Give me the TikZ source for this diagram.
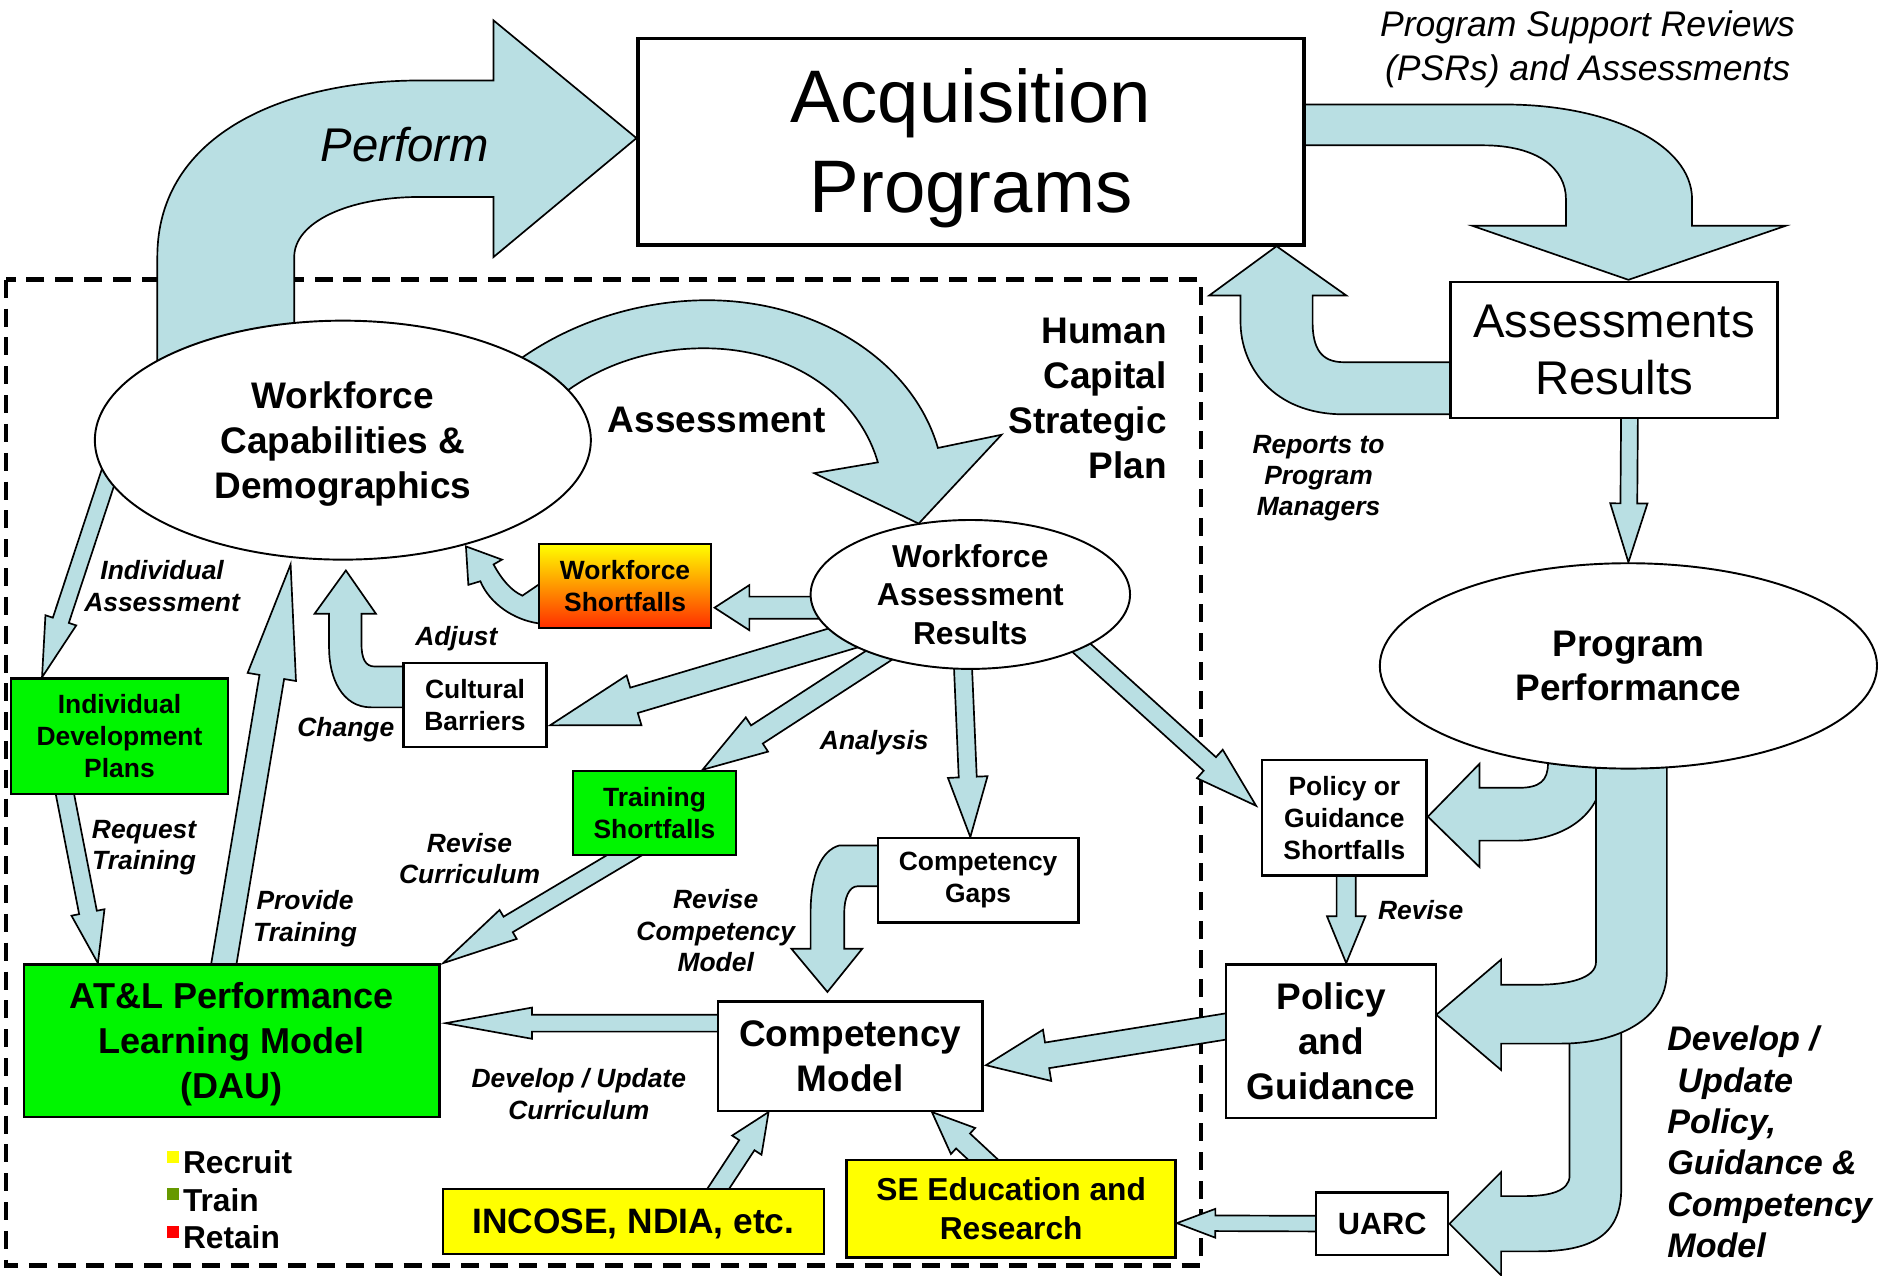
\documentclass[tikz,border=0pt]{standalone}
\usepackage{fontspec}
\setmainfont{Liberation Sans}
\usetikzlibrary{shapes.geometric,calc,backgrounds}
\definecolor{arrowblue}{RGB}{185,223,227}
\definecolor{boxgreen}{RGB}{0,245,0}
\definecolor{boxyellow}{RGB}{255,255,0}
\definecolor{wsorange}{RGB}{255,165,0}
\definecolor{wsred}{RGB}{255,45,0}
\definecolor{trainc}{RGB}{102,153,0}
\newcommand{\fsz}[2]{\fontsize{#1}{#2}\selectfont}
\newcommand{\sq}[1]{{\color{#1}\rule[4.4pt]{5pt}{5pt}}\hspace{1.5pt}}
\tikzset{box/.style={draw,fill=white,line width=1pt,inner sep=0pt,align=center},
 greenbox/.style={box,fill=boxgreen},
 yellowbox/.style={box,fill=boxyellow},
 oval/.style={draw,fill=white,ellipse,line width=0.8pt,inner sep=0pt,align=center},
 blk/.style={draw,fill=arrowblue,line width=0.7pt},
 dashbox/.style={draw,line width=2pt,dash pattern=on 7.5pt off 4.5pt},
 lbl/.style={align=center,inner sep=0pt,font=\bfseries\itshape\fsz{11}{13}},
 smalltxt/.style={font=\bfseries\fsz{11}{13.25}},
 bigtxt/.style={font=\bfseries\fsz{15.4}{18.7}}}
\newcommand{\fatarrow}[5]{\coordinate(hb) at($#2!#5!#1$);
 \draw[blk]($#1!#3!90:#2$)--($(hb)!#3!-90:#1$)--($(hb)!#4!-90:#1$)--#2--($(hb)!#4!90:#1$)--($(hb)!#3!90:#1$)--($#1!#3!-90:#2$)--cycle;}

\begin{document}
\begin{tikzpicture}[x=0.5pt,y=-0.5pt]
\useasboundingbox(0,0) rectangle(1568,1062);
\node[box,line width=1.6pt,minimum width=277.5pt,minimum height=86pt,text depth=1pt,font=\fsz{31}{37.5}](acq) at(808.5,118){Acquisition\\Programs};
\node[box,minimum width=136pt,minimum height=56.5pt,font=\fsz{19.7}{24}](asr) at(1344,291.5){Assessments\\Results};
\node[oval,minimum width=206.5pt,minimum height=99.5pt,text depth=-1.5pt,bigtxt](wcd) at(285.5,366.5){Workforce\\Capabilities \&\\Demographics};
\node[oval,minimum width=133pt,minimum height=62pt,text depth=-2pt,font=\bfseries\fsz{13.2}{16}](war) at(808,495){Workforce\\Assessment\\Results};
\node[oval,minimum width=207pt,minimum height=85.5pt,bigtxt](pp) at(1356,554.5){Program\\Performance};
\node[box,minimum width=71.5pt,minimum height=35pt,smalltxt,top color=boxyellow,middle color=wsorange,bottom color=wsred](ws) at(520.5,488){Workforce\\Shortfalls};
\node[box,minimum width=59.5pt,minimum height=35pt,smalltxt](cb) at(395.5,587){Cultural\\Barriers};
\node[greenbox,minimum width=90.5pt,minimum height=48pt,smalltxt](idp) at(99.5,613){Individual\\Development\\Plans};
\node[greenbox,minimum width=68pt,minimum height=35pt,smalltxt](ts) at(545,677){Training\\Shortfalls};
\node[box,minimum width=83.5pt,minimum height=35pt,smalltxt](cg) at(814.5,733){Competency\\Gaps};
\node[box,minimum width=110pt,minimum height=45.5pt,text depth=-2pt,bigtxt](cm) at(708,879.5){Competency\\Model};
\node[greenbox,minimum width=173pt,minimum height=63.5pt,text depth=-2pt,font=\bfseries\fsz{15}{18.7}](atl) at(193,866.5){AT\&L Performance\\Learning Model\\(DAU)};
\node[yellowbox,minimum width=158.5pt,minimum height=27pt,text depth=-1pt,font=\bfseries\fsz{14.7}{17}](inc) at(527.5,1017){INCOSE, NDIA, etc.};
\node[yellowbox,minimum width=137pt,minimum height=40.5pt,text depth=-2pt,font=\bfseries\fsz{13.2}{16}](se) at(842,1006.5){SE Education and\\Research};
\node[box,minimum width=55pt,minimum height=26pt,font=\bfseries\fsz{12.8}{15}](uarc) at(1151,1019){UARC};
\node[box,minimum width=87.5pt,minimum height=64pt,bigtxt](pg) at(1108.5,867){Policy\\and\\Guidance};
\node[box,minimum width=68.5pt,minimum height=48pt,smalltxt](pgs) at(1119.5,681){Policy or\\Guidance\\Shortfalls};
\node[font=\itshape\fsz{14.8}{18},align=center,inner sep=0pt](psr) at(1322,41){Program Support Reviews\\(PSRs) and Assessments};
\node[font=\itshape\fsz{19.7}{24},inner sep=0pt](perf) at(337,120){Perform};
\node[bigtxt,inner sep=0pt](asl) at(597,350){Assessment};
\node[bigtxt,align=right,anchor=east,inner sep=0pt](hcsp) at(972,332){Human\\Capital\\Strategic\\Plan};
\node[lbl](rep) at(1098,398){Reports to\\Program\\Managers};
\node[lbl](inda) at(135,488){Individual\\Assessment};
\node[lbl](adj) at(380,532){Adjust};
\node[lbl](chg) at(288,608){Change};
\node[lbl](reqt) at(120,706){Request\\Training};
\node[lbl](prvt) at(254,765){Provide\\Training};
\node[lbl](revc) at(391,715){Revise\\Curriculum};
\node[lbl](ana) at(728,618){Analysis};
\node[lbl](revm) at(596,775){Revise\\Competency\\Model};
\node[lbl](devc) at(482,911){Develop / Update\\Curriculum};
\node[lbl](rev) at(1183,758){Revise};
\node[lbl,align=left,anchor=west,font=\bfseries\itshape\fsz{14.2}{17.25}](devp) at(1388,951){Develop /\\\hspace*{0.3em}Update\\Policy,\\Guidance \&\\Competency\\Model};
\node[anchor=west,align=left,inner sep=0pt,font=\bfseries\fsz{13.2}{15.75}](leg) at(139,999){\sq{boxyellow}Recruit\\\sq{trainc}Train\\\sq{red}Retain};
\begin{pgfonlayer}{background}
\draw[dashbox](5,233) rectangle(1000,1054);
\draw[blk](131,330)--(131,214)..controls(131,110)and(240,67)..(350,67)--(411,67)--(411,17)--(530,115)--(411,214)--(411,164)--(350,164)..controls(290,164)and(245,185)..(245,214)--(245,330)--cycle;
\draw[blk](1080,87)--(1253,87)..controls(1340,87)and(1409,120)..(1409,166)--(1409,188)--(1487,188)--(1356,233)--(1226,188)--(1304,188)--(1304,166)..controls(1304,140)and(1280,121)..(1235,121)--(1080,121)--cycle;
\draw[blk](1215,345)--(1119,345)..controls(1060,345)and(1033,305)..(1033,268)--(1033,246)--(1007,246)--(1063,205)--(1121,246)--(1093,246)--(1093,268)..controls(1093,290)and(1100,301.6)..(1119,301.6)--(1215,301.6)--cycle;
\draw[blk](425,305)..controls(470,270)and(530,250)..(589,250)..controls(680,250)and(760,300)..(781,373)--(834,362)--(765,436)--(678,394)--(731,385)..controls(715,330)and(660,290)..(586,290)..controls(540,290)and(495,305)..(460,335)--cycle;
\draw[blk](345,589)--(309,589)..controls(285,589)and(274,565)..(274,539)--(274,511)--(262,511)--(288,475)--(313,511)--(301,511)--(301,536)..controls(301,548)and(304,555)..(312,555)--(345,555)--cycle;
\draw[blk](460,519)--(448,519)..controls(428,516)and(408,503)..(400,484)--(390,487)--(388,455)--(418,466)--(411,470)..controls(418,483)and(426,492)..(435,496)--(460,479)--cycle;
\draw[blk](745,704)--(699,704)..controls(684,708)and(675,728)..(675,760)--(675,790)--(659,790)--(689,826)--(718,790)--(703,790)--(703,760)..controls(703,748)and(707,738)..(714,738)--(745,738)--cycle;
\draw[blk](1307,850)--(1307,979)..controls(1307,992)and(1290,996)..(1270,996)--(1250,996)--(1250,976)--(1207,1019)--(1250,1062)--(1250,1042)--(1280,1042)..controls(1330,1042)and(1350,1025)..(1350,990)--(1350,850)--cycle;
\draw[blk](1289,620)--(1289,636)..controls(1289,650)and(1282,656)..(1265,656)--(1232,656)--(1232,636)--(1189,680)--(1232,722)--(1232,700)--(1262,700)..controls(1300,700)and(1335,680)..(1335,640)--(1335,620)--cycle;
\draw[blk](1329,620)--(1329,801)..controls(1329,815)and(1305,820)..(1280,820)--(1250,820)--(1250,799)--(1196,845)--(1250,891)--(1250,869)--(1300,869)..controls(1345,869)and(1388,850)..(1388,809)--(1388,620)--cycle;
\fatarrow{([shift={(-186,2)}]wcd.center)}{([shift={(27,0)}]idp.north west)}{3.5pt}{6.75pt}{25pt}
\fatarrow{([shift={(42.5,-19)}]idp.south west)}{([shift={(62.5,0)}]atl.north west)}{3.75pt}{7pt}{21.5pt}
\fatarrow{([shift={(164.5,18)}]atl.north west)}{([shift={(-43.5,103.5)}]wcd.center)}{5.2pt}{10.2pt}{47.5pt}
\fatarrow{([shift={(-108,11)}]war.center)}{([shift={(2,18)}]ws.east)}{4.6pt}{9.4pt}{14.5pt}
\fatarrow{([shift={(-85,30)}]war.center)}{([shift={(2,17)}]cb.east)}{5.5pt}{10.8pt}{36.5pt}
\fatarrow{([shift={(-55,37)}]war.center)}{([shift={(40,0)}]ts.north)}{4.5pt}{8.5pt}{27pt}
\fatarrow{([shift={(-7,40)}]war.center)}{([shift={(-6.5,0)}]cg.north)}{3.75pt}{8.25pt}{25pt}
\fatarrow{([shift={(75,28.6)}]war.center)}{([shift={(-4,-10)}]pgs.west)}{3.8pt}{8pt}{26pt}
\fatarrow{([shift={(-13,-8)}]ts.south)}{([shift={(2,0)}]atl.north east)}{3.75pt}{7pt}{31.5pt}
\fatarrow{([shift={(22,-27.5)}]cm.west)}{([shift={(4,-14.5)}]atl.east)}{3.5pt}{6.5pt}{36pt}
\fatarrow{([shift={(24,-16)}]pg.west)}{([shift={(2,7.5)}]cm.east)}{5.4pt}{10.8pt}{25.8pt}
\fatarrow{([shift={(1.5,-19)}]pgs.south)}{([shift={(12.5,0)}]pg.north)}{4pt}{8pt}{19.5pt}
\fatarrow{([shift={(13,-18)}]asr.south)}{(pp.north)}{3.5pt}{7.75pt}{24.5pt}
\fatarrow{([shift={(-31,0)}]uarc.center)}{([shift={(0,12)}]se.east)}{3.25pt}{6pt}{16pt}
\fatarrow{([shift={(60,17)}]inc.north)}{([shift={(43,0)}]cm.south west)}{3.8pt}{7.3pt}{16.5pt}
\fatarrow{([shift={(-9,14)}]se.north)}{([shift={(-43,0)}]cm.south east)}{4.25pt}{7.4pt}{17.7pt}
\end{pgfonlayer}
\end{tikzpicture}
\end{document}
